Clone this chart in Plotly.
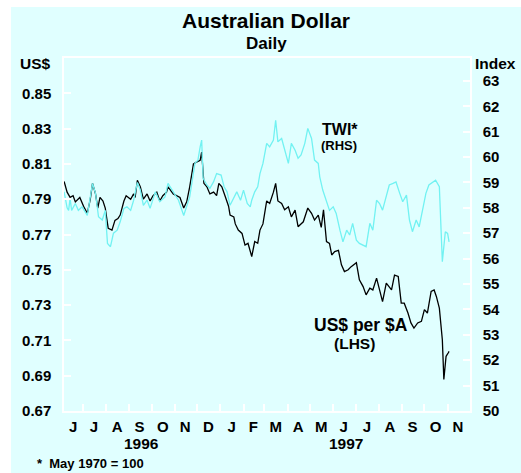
import plotly.graph_objects as go

usd_dates = ["1996-06-06","1996-06-10","1996-06-14","1996-06-18","1996-06-21","1996-06-27","1996-07-02","1996-07-07",
"1996-07-11","1996-07-14","1996-07-18","1996-07-21","1996-07-24","1996-07-28","1996-07-31","1996-08-04","1996-08-09",
"1996-08-13","1996-08-17","1996-08-20","1996-08-25","1996-08-28","1996-09-03","1996-09-07","1996-09-09","1996-09-12",
"1996-09-16","1996-09-20","1996-09-25","1996-09-29","1996-10-03","1996-10-08","1996-10-12","1996-10-16","1996-10-21",
"1996-10-23","1996-10-30","1996-11-08","1996-11-13","1996-11-17","1996-11-21","1996-11-26","1996-11-30","1996-12-05",
"1996-12-07","1996-12-10","1996-12-14","1996-12-18","1996-12-23","1996-12-27","1996-12-30","1997-01-03","1997-01-08",
"1997-01-12","1997-01-14","1997-01-19","1997-01-21","1997-01-25","1997-01-30","1997-02-03","1997-02-07","1997-02-12",
"1997-02-16","1997-02-20","1997-02-23","1997-02-27","1997-03-04","1997-03-08","1997-03-13","1997-03-16","1997-03-19",
"1997-03-24","1997-03-28","1997-04-02","1997-04-06","1997-04-11","1997-04-15","1997-04-22","1997-04-28","1997-05-03",
"1997-05-07","1997-05-12","1997-05-16","1997-05-19","1997-05-23","1997-05-27","1997-05-30","1997-06-03","1997-06-08",
"1997-06-12","1997-06-16","1997-06-21","1997-06-25","1997-07-02","1997-07-06","1997-07-11","1997-07-15","1997-07-20",
"1997-07-24","1997-07-29","1997-08-02","1997-08-06","1997-08-11","1997-08-18","1997-08-22","1997-08-27","1997-08-31",
"1997-09-04","1997-09-09","1997-09-13","1997-09-17","1997-09-22","1997-09-27","1997-10-01","1997-10-05","1997-10-10",
"1997-10-14","1997-10-17","1997-10-21","1997-10-25","1997-10-27","1997-10-30","1997-11-02","1997-11-03"]
usd_values = [0.800,0.794,0.791,0.792,0.7885,0.791,0.786,0.782,
0.790,0.799,0.793,0.785,0.791,0.789,0.785,0.7735,0.7725,
0.778,0.779,0.781,0.789,0.792,0.790,0.793,0.791,0.8007,
0.797,0.790,0.793,0.789,0.792,0.794,0.789,0.792,0.794,
0.797,0.793,0.791,0.785,0.7885,0.797,0.810,0.811,0.812,
0.8167,0.799,0.797,0.793,0.794,0.792,0.799,0.797,0.791,
0.786,0.781,0.780,0.776,0.7725,0.7706,0.764,0.765,0.7575,
0.766,0.765,0.7725,0.776,0.789,0.7876,0.794,0.799,0.789,
0.7876,0.784,0.7857,0.780,0.7838,0.7744,0.7772,0.785,0.782,
0.7782,0.781,0.774,0.784,0.766,0.765,0.7584,0.7603,0.761,
0.7528,0.749,0.750,0.7518,0.754,0.7443,0.7405,0.7358,0.7396,
0.7386,0.7453,0.7386,0.732,0.7424,0.7386,0.747,0.7462,0.7311,
0.7311,0.7255,0.7199,0.717,0.7199,0.7208,0.7274,0.7255,0.7377,
0.7386,0.7349,0.7283,0.7104,0.6879,0.701,0.703,0.7038]

twi_dates = ["1996-06-06","1996-06-10","1996-06-12","1996-06-14","1996-06-16","1996-06-21","1996-06-25","1996-06-30",
"1996-07-07","1996-07-14","1996-07-18","1996-07-22","1996-07-27","1996-07-31","1996-08-03","1996-08-07","1996-08-11",
"1996-08-16","1996-08-20","1996-08-25","1996-08-29","1996-09-03","1996-09-07","1996-09-12","1996-09-16","1996-09-20",
"1996-09-25","1996-09-29","1996-10-06","1996-10-12","1996-10-19","1996-10-23","1996-10-30","1996-11-06","1996-11-13",
"1996-11-17","1996-11-21","1996-11-28","1996-12-02","1996-12-05","1996-12-07","1996-12-09","1996-12-14","1996-12-18",
"1996-12-23","1996-12-27","1997-01-02","1997-01-06","1997-01-10","1997-01-14","1997-01-19","1997-01-23","1997-01-28",
"1997-02-01","1997-02-06","1997-02-10","1997-02-12","1997-02-16","1997-02-20","1997-02-23","1997-02-27","1997-03-04",
"1997-03-08","1997-03-13","1997-03-16","1997-03-19","1997-03-24","1997-03-28","1997-04-02","1997-04-06","1997-04-11",
"1997-04-15","1997-04-19","1997-04-24","1997-04-28","1997-05-03","1997-05-07","1997-05-12","1997-05-14","1997-05-18",
"1997-05-23","1997-05-27","1997-06-01","1997-06-05","1997-06-10","1997-06-14","1997-06-19","1997-06-23","1997-06-27",
"1997-07-02","1997-07-06","1997-07-11","1997-07-15","1997-07-20","1997-07-24","1997-07-29","1997-08-02","1997-08-06",
"1997-08-11","1997-08-15","1997-08-20","1997-08-24","1997-08-29","1997-09-02","1997-09-07","1997-09-11","1997-09-15",
"1997-09-20","1997-09-24","1997-09-29","1997-10-03","1997-10-07","1997-10-12","1997-10-16","1997-10-21","1997-10-23",
"1997-10-25","1997-10-29","1997-11-01","1997-11-03"]
twi_values = [58.63,58.0,57.9,58.37,57.9,58.17,57.9,58.04,
57.7,58.96,58.57,57.65,57.52,57.9,56.6,56.47,57.0,
57.12,57.45,57.98,58.04,57.9,58.3,59.0,58.7,58.1,
58.3,57.98,58.63,58.24,58.43,58.96,58.63,58.3,57.7,
58.04,58.43,59.75,59.88,60.4,60.67,59.16,58.9,58.77,
59.03,59.35,59.29,58.83,58.63,58.1,58.37,58.63,58.3,
58.7,58.17,58.04,58.3,58.63,58.83,59.35,59.75,60.54,
60.4,60.67,61.45,60.6,60.73,60.34,59.75,60.54,60.27,
59.95,60.08,60.54,61.13,60.73,59.88,59.75,59.22,58.7,
58.3,57.9,58.04,57.78,57.12,56.66,57.12,56.93,57.39,
56.73,56.6,56.53,56.47,57.39,57.12,58.3,58.17,57.91,
58.43,58.9,58.96,59.02,58.57,58.24,58.5,57.52,57.06,
57.52,57.25,57.91,58.57,58.9,59.02,59.09,58.83,57.52,
55.88,57.06,56.99,56.66]

month_starts = ["1996-07-01","1996-08-01","1996-09-01","1996-10-01","1996-11-01","1996-12-01","1997-01-01",
"1997-02-01","1997-03-01","1997-04-01","1997-05-01","1997-06-01","1997-07-01","1997-08-01","1997-09-01",
"1997-10-01","1997-11-01"]
month_mids = ["1996-06-18","1996-07-16","1996-08-16","1996-09-15","1996-10-16","1996-11-15","1996-12-16",
"1997-01-16","1997-02-14","1997-03-16","1997-04-15","1997-05-16","1997-06-15","1997-07-16","1997-08-16",
"1997-09-15","1997-10-16","1997-11-15"]
month_labels = ["J","J","A","S","O","N","D","J","F","M","A","M","J","J","A","S","O","N"]
left_ticks = [0.67,0.69,0.71,0.73,0.75,0.77,0.79,0.81,0.83,0.85]
right_ticks = list(range(50, 64))

BG = "#E0FFFF"
FONT = "Liberation Sans, Arial, Helvetica, sans-serif"
L, R, T, B = 64, 51, 58, 62
W, H = 521, 473
PW, PH = W - L - R, H - T - B

def px(x):
    return (x - L) / PW

def py(y):
    return (H - B - y) / PH

fig = go.Figure()
fig.add_trace(go.Scatter(x=usd_dates, y=usd_values, mode="lines",
                         line=dict(color="black", width=1.3), yaxis="y", showlegend=False))
fig.add_trace(go.Scatter(x=twi_dates, y=twi_values, mode="lines",
                         line=dict(color="#72F2F2", width=1.3), yaxis="y2", showlegend=False))

axis_font = dict(family=FONT, size=15, color="black", weight="bold")

fig.update_layout(
    width=W, height=H,
    margin=dict(l=L, r=R, t=T, b=B, pad=0, autoexpand=False),
    paper_bgcolor=BG, plot_bgcolor=BG,
    xaxis=dict(type="date", range=["1996-06-05 20:00", "1997-12-01"],
               tickmode="array", tickvals=month_mids, ticktext=month_labels,
               ticks="", tickfont=axis_font, ticklabelstandoff=1,
               showgrid=False, zeroline=False,
               showline=True, linecolor="white", linewidth=1.5, mirror=True,
               minor=dict(tickmode="array", tickvals=month_starts, ticks="inside",
                          ticklen=7, tickcolor="white", tickwidth=1.5, showgrid=False)),
    yaxis=dict(range=[0.67, 0.87], tickmode="array", tickvals=left_ticks,
               ticktext=[f"{v:.2f}" for v in left_ticks],
               ticks="inside", ticklen=7, tickcolor="white", tickwidth=1.5,
               tickfont=axis_font, ticklabelstandoff=8,
               showgrid=False, zeroline=False,
               showline=True, linecolor="white", linewidth=1.5),
    yaxis2=dict(range=[50, 63.9], overlaying="y", side="right",
                tickmode="array", tickvals=right_ticks,
                ticks="inside", ticklen=7, tickcolor="white", tickwidth=1.5,
                tickfont=axis_font, ticklabelstandoff=8,
                showgrid=False, zeroline=False,
                showline=True, linecolor="white", linewidth=1.5),
)

def ann(text, x, y, size, xanchor="center", xref="paper"):
    fig.add_annotation(text=text, x=x, y=y, xref=xref, yref="paper", showarrow=False,
                       xanchor=xanchor, yanchor="middle",
                       font=dict(family=FONT, size=size, color="black", weight="bold"))

ann("Australian Dollar", px(266), py(20), 21)
ann("Daily", px(266), py(44), 17)
ann("US$", px(53), py(63), 15.5, xanchor="right")
ann("Index", px(473), py(63), 15.5, xanchor="left")
ann("TWI*", px(340), py(129), 16)
ann("(RHS)", px(338.5), py(145), 13)
ann("US$ per $A", px(360.5), py(325), 17.5)
ann("(LHS)", px(354.5), py(343), 15.5)
ann("1996", "1996-09-18", py(443), 15.5, xref="x")
ann("1997", "1997-06-18", py(443), 15.5, xref="x")
ann("*  May 1970 = 100", px(35), py(463), 13, xanchor="left")

# white page margin at the top and left of the coloured panel
fig.add_shape(type="rect", xref="paper", yref="paper", x0=px(-5), x1=px(11), y0=py(-5), y1=py(H + 5),
              fillcolor="white", line=dict(width=0), layer="above")
fig.add_shape(type="rect", xref="paper", yref="paper", x0=px(-5), x1=px(W + 5), y0=py(-5), y1=py(7),
              fillcolor="white", line=dict(width=0), layer="above")

fig.write_html("out.html", config={"displayModeBar": False},
               post_script="document.body.style.margin='0';document.body.style.padding='0';document.body.style.overflow='hidden';")
